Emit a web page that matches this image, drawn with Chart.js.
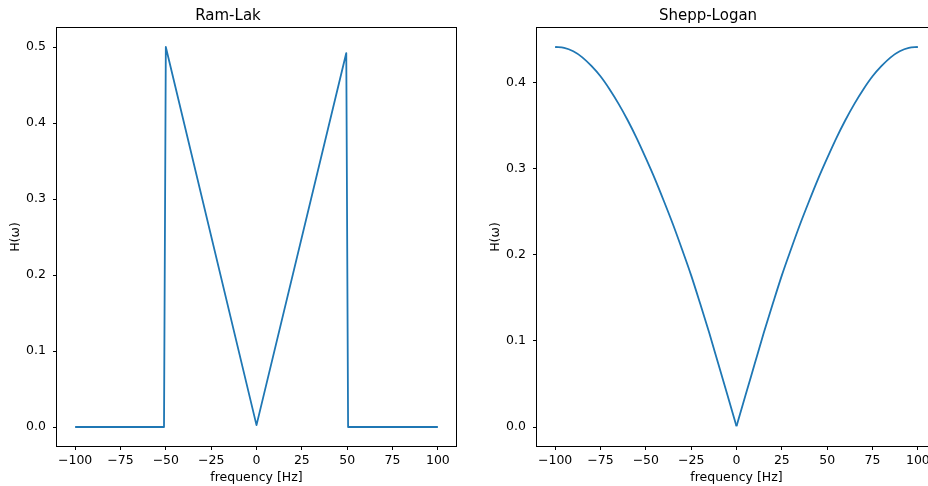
<!DOCTYPE html>
<html>
<head>
<meta charset="utf-8">
<script src="https://cdn.jsdelivr.net/npm/chart.js@4.4.1/dist/chart.umd.min.js"></script>
<style>
  html, body { margin: 0; padding: 0; background: #ffffff; overflow: hidden; width: 928px; height: 486px; }
  canvas { position: absolute; top: 0; }
  #c1 { left: 0px; }
  #c2 { left: 480px; }
</style>
</head>
<body>
<canvas id="c1" width="513" height="486"></canvas>
<canvas id="c2" width="513" height="486"></canvas>
<script>
// ---- data ----
const ramLakFreq = [-100, -51, -50, 0, 49.5, 50.5, 100];
const ramLakH    = [0, 0, 0.5, 0.0025, 0.492, 0, 0];

const sheppFreq = [-100, -95, -90, -85, -80, -75, -70, -65, -60, -55, -50, -45, -40, -35, -30, -25, -20, -15, -10, -5,
                   0, 5, 10, 15, 20, 25, 30, 35, 40, 45, 50, 55, 60, 65, 70, 75, 80, 85, 90, 95, 100];
const sheppH    = [0.441, 0.440, 0.436, 0.429, 0.419, 0.407, 0.392, 0.375, 0.356, 0.335, 0.312, 0.288, 0.262, 0.235, 0.206, 0.176, 0.143, 0.109, 0.073, 0.037,
                   0.001, 0.037, 0.073, 0.109, 0.143, 0.176, 0.206, 0.235, 0.262, 0.288, 0.312, 0.335, 0.356, 0.375, 0.392, 0.407, 0.419, 0.429, 0.436, 0.440, 0.441];

const xTicks = [-100, -75, -50, -25, 0, 25, 50, 75, 100];
const ramLakYTicks = [0, 0.1, 0.2, 0.3, 0.4, 0.5];
const sheppYTicks  = [0, 0.1, 0.2, 0.3, 0.4];

const titles = ['Ram-Lak', 'Shepp-Logan'];
const xLabel = 'frequency [Hz]';
const yLabel = 'H(\u03c9)';

// ---- styling ----
const FONT = "'DejaVu Sans', sans-serif";
const LINE = '#1f77b4';

const framePlugin = {
  id: 'frame',
  afterDraw(chart) {
    const a = chart.chartArea, ctx = chart.ctx;
    ctx.save();
    ctx.strokeStyle = '#000';
    ctx.lineWidth = 1;
    ctx.strokeRect(Math.round(a.left) - 0.5, Math.round(a.top) - 0.5, Math.round(a.right - a.left) + 1, Math.round(a.bottom - a.top) + 1);
    ctx.restore();
  }
};

function fmtX(v) { return v < 0 ? '\u2212' + Math.abs(v) : String(v); }

function lineDataset(pts, smooth) {
  return { data: pts, borderColor: LINE, borderWidth: 1.8, pointRadius: 0, tension: smooth ? 0.4 : 0,
           cubicInterpolationMode: smooth ? 'monotone' : 'default', borderJoinStyle: 'round', fill: false };
}

function makeChart(id, title, xs, ys, yMin, yMax, yTicks, smooth) {
  const pts = xs.map((x, i) => ({ x: x, y: ys[i] }));
  // a smooth curve is drawn as two monotone halves so the vertex at 0 stays sharp
  const datasets = smooth
    ? [lineDataset(pts.filter(p => p.x <= 0), true), lineDataset(pts.filter(p => p.x >= 0), true)]
    : [lineDataset(pts, false)];
  return new Chart(document.getElementById(id), {
    type: 'line',
    data: { datasets: datasets },
    options: {
      responsive: false,
      animation: false,
      devicePixelRatio: 1,
      layout: { padding: { left: 0, right: 57, top: 0, bottom: 0 } },
      plugins: {
        legend: { display: false },
        tooltip: { enabled: false },
        title: { display: true, text: title, color: '#000', font: { family: FONT, size: 15, weight: 'normal', lineHeight: 1.2 }, padding: { top: 6.8, bottom: 3.2 } }
      },
      scales: {
        x: {
          type: 'linear', min: -110, max: 110,
          afterBuildTicks: s => { s.ticks = xTicks.map(v => ({ value: v })); },
          afterFit: s => { s.height = 40; },
          grid: { display: true, drawOnChartArea: false, drawTicks: true, tickLength: 4, tickWidth: 1, tickColor: '#000' },
          border: { display: false },
          ticks: { callback: v => fmtX(v), color: '#000', padding: 3.3, maxRotation: 0, autoSkip: false, font: { family: FONT, size: 12.5, lineHeight: 1.2 } },
          title: { display: true, text: xLabel, color: '#000', font: { family: FONT, size: 12.5, lineHeight: 1.2 }, padding: { top: 0, bottom: 0.7 } }
        },
        y: {
          type: 'linear', min: yMin, max: yMax,
          afterBuildTicks: s => { s.ticks = yTicks.map(v => ({ value: v })); },
          afterFit: s => { s.width = 57; },
          grid: { display: true, drawOnChartArea: false, drawTicks: true, tickLength: 4, tickWidth: 1, tickColor: '#000' },
          border: { display: false },
          ticks: { callback: v => Number(v).toFixed(1), color: '#000', padding: 7, autoSkip: false, font: { family: FONT, size: 12.5, lineHeight: 1.2 } },
          title: { display: true, text: yLabel, color: '#000', font: { family: FONT, size: 12.5, lineHeight: 1.2 }, padding: { top: 8, bottom: 0 } }
        }
      }
    },
    plugins: [framePlugin]
  });
}

makeChart('c1', titles[0], ramLakFreq, ramLakH, -0.025, 0.525, ramLakYTicks, false);
makeChart('c2', titles[1], sheppFreq, sheppH, -0.02205, 0.46305, sheppYTicks, true);
</script>
</body>
</html>
